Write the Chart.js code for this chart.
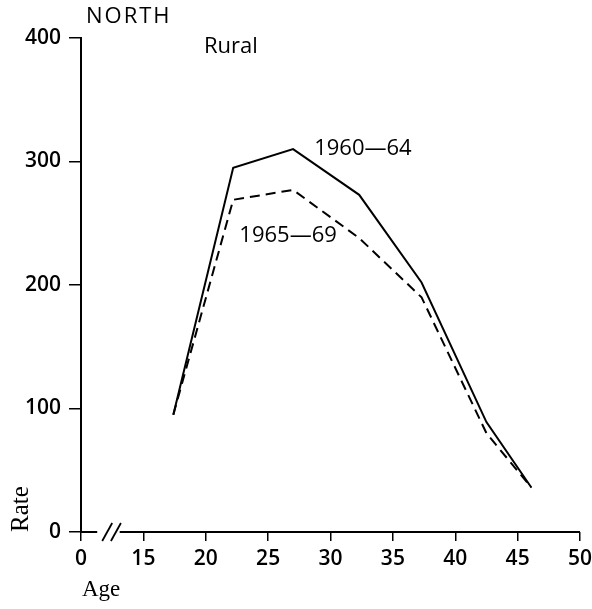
<!DOCTYPE html>
<html>
<head>
<meta charset="utf-8">
<script src="https://cdn.jsdelivr.net/npm/chart.js@4/dist/chart.umd.min.js"></script>
<style>
html,body{margin:0;padding:0;background:#fff;}
#wrap{width:592px;height:609px;position:relative;}
</style>
</head>
<body>
<div id="wrap"><canvas id="c"></canvas></div>
<script>
const ages = [17.4, 22.2, 27.0, 32.3, 37.3, 42.5, 46.1];
const rate1960_64 = [95, 295, 310, 273, 202, 89, 36];
const rate1965_69 = [95, 269, 277, 238, 190, 80, 36];
const xTickValues = [10, 15, 20, 25, 30, 35, 40, 45, 50];
const xTickLabels = ['0', '15', '20', '25', '30', '35', '40', '45', '50'];
const yTickValues = [0, 100, 200, 300, 400];
const seriesNames = ['1960—64', '1965—69'];

const tickFont = {family: "'Open Sans', 'DejaVu Sans', sans-serif", size: 21, weight: '600'};

const decor = {
  id: 'decor',
  afterDraw(chart) {
    const ctx = chart.ctx;
    const xs = chart.scales.x, ys = chart.scales.y;
    const y0 = ys.getPixelForValue(0);
    ctx.save();
    ctx.strokeStyle = '#000';
    ctx.fillStyle = '#000';
    // x axis line with break
    ctx.lineWidth = 2;
    ctx.beginPath();
    ctx.moveTo(xs.getPixelForValue(10) - 1, y0);
    ctx.lineTo(xs.getPixelForValue(11.3), y0);
    ctx.moveTo(xs.getPixelForValue(13.1), y0);
    ctx.lineTo(xs.getPixelForValue(50), y0);
    ctx.stroke();
    // break marks
    ctx.lineWidth = 1.8;
    [12.1, 12.8].forEach(v => {
      const bx = xs.getPixelForValue(v);
      ctx.beginPath();
      ctx.moveTo(bx - 5, y0 + 9);
      ctx.lineTo(bx + 5, y0 - 9);
      ctx.stroke();
    });
    // series labels
    ctx.font = "22px 'Open Sans', 'DejaVu Sans', sans-serif";
    ctx.textAlign = 'center';
    ctx.textBaseline = 'middle';
    ctx.fillText(seriesNames[0], xs.getPixelForValue(32.6), ys.getPixelForValue(310));
    ctx.fillText(seriesNames[1], xs.getPixelForValue(26.6), ys.getPixelForValue(240));
    // titles
    ctx.textAlign = 'left';
    ctx.textBaseline = 'alphabetic';
    ctx.font = "22px 'Open Sans', 'DejaVu Sans', sans-serif";
    ctx.letterSpacing = '2px';
    ctx.fillText('NORTH', 86, 23);
    ctx.letterSpacing = '0px';
    ctx.font = "22px 'Open Sans', 'DejaVu Sans', sans-serif";
    ctx.fillText('Rural', 204, 53);
    // axis titles
    ctx.font = "23px 'Liberation Serif', serif";
    ctx.fillText('Age', 82, 596);
    ctx.save();
    ctx.translate(28, 532);
    ctx.rotate(-Math.PI / 2);
    ctx.font = "25px 'Liberation Serif', serif";
    ctx.fillText('Rate', 0, 0);
    ctx.restore();
    ctx.restore();
  }
};

new Chart(document.getElementById('c'), {
  type: 'line',
  data: {
    datasets: [
      {
        label: seriesNames[0],
        data: ages.map((a, i) => ({x: a, y: rate1960_64[i]})),
        borderColor: '#000',
        borderWidth: 2,
        pointRadius: 0,
        fill: false,
        tension: 0
      },
      {
        label: seriesNames[1],
        data: ages.map((a, i) => ({x: a, y: rate1965_69[i]})),
        borderColor: '#000',
        borderWidth: 2,
        borderDash: [10, 6],
        pointRadius: 0,
        fill: false,
        tension: 0
      }
    ]
  },
  options: {
    responsive: true,
    maintainAspectRatio: false,
    animation: false,
    layout: {padding: {left: 0, top: 38, right: 12, bottom: 0}},
    plugins: {legend: {display: false}, tooltip: {enabled: false}, title: {display: false}},
    scales: {
      x: {
        type: 'linear',
        min: 10, max: 50,
        afterBuildTicks: s => { s.ticks = xTickValues.map(v => ({value: v})); },
        ticks: {
          color: '#000', font: tickFont, padding: 5, maxRotation: 0,
          callback: (v) => xTickLabels[xTickValues.indexOf(v)]
        },
        grid: {drawOnChartArea: false, drawTicks: true, tickLength: 9, color: '#000', lineWidth: 1.5},
        border: {display: false},
        afterFit: s => { s.height = 77; s.paddingRight = 0; }
      },
      y: {
        type: 'linear',
        min: 0, max: 400,
        afterBuildTicks: s => { s.ticks = yTickValues.map(v => ({value: v})); },
        ticks: {color: '#000', font: tickFont, padding: 8},
        grid: {drawOnChartArea: false, drawTicks: true, tickLength: 12, color: '#000', lineWidth: 1.5},
        border: {display: true, color: '#000', width: 2},
        afterFit: s => { s.width = 81; }
      }
    }
  },
  plugins: [decor]
});
</script>
</body>
</html>
